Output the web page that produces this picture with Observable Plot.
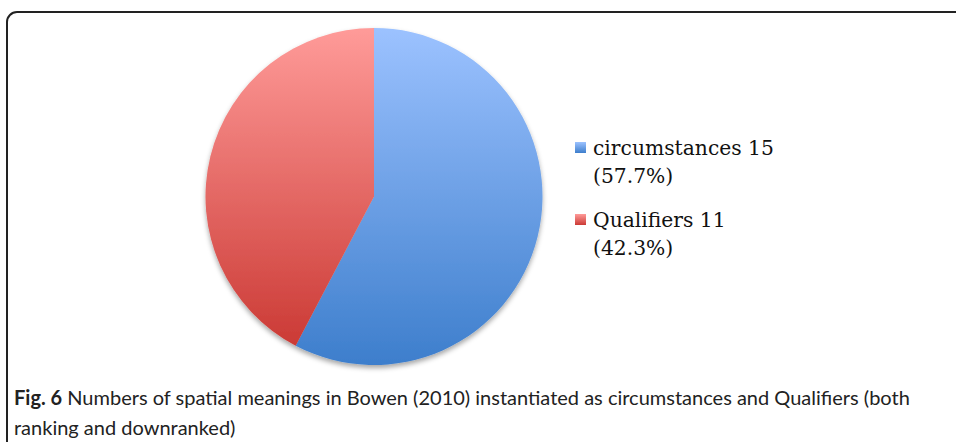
<!DOCTYPE html>
<html><head><meta charset="utf-8">
<script src="https://cdn.jsdelivr.net/npm/d3@7"></script>
<script src="https://cdn.jsdelivr.net/npm/@observablehq/plot@0.6"></script>
<style>
html,body{margin:0;padding:0;background:#fff;}
#wrap{position:relative;width:956px;height:442px;overflow:hidden;background:#fff;}
#frame{position:absolute;left:6px;top:11px;width:1000px;height:520px;border:2px solid #222;border-top-left-radius:11px;box-sizing:border-box;}
#chart{position:absolute;left:0;top:0;}
#legend{position:absolute;left:0;top:0;font-family:"DejaVu Serif",serif;font-size:20.3px;line-height:28px;color:#111;}
.item{position:absolute;left:593px;white-space:nowrap;}
.sw{position:absolute;left:-18px;top:8px;width:11px;height:11px;}
#caption{position:absolute;left:14px;top:382px;font-family:Lato,sans-serif;font-size:20px;line-height:30px;color:#222;white-space:nowrap;}
#caption b{font-weight:bold;}
</style>
</head><body>
<div id="wrap">
  <div id="frame"></div>
  <div id="chart"></div>
  <div id="legend"></div>
  <div id="caption"></div>
</div>
<script>
// ---- data ----
const categories = ["circumstances", "Qualifiers"];
const counts = [15, 11];
const captionLabel = "Fig. 6";
const captionText = "Numbers of spatial meanings in Bowen (2010) instantiated as circumstances and Qualifiers (both";
const captionText2 = "ranking and downranked)";

// ---- styles ----
const topColors = ["#9cc2ff", "#ff9b99"];
const bottomColors = ["#3d7ecc", "#cb3a35"];

const rows = categories.map((c, i) => ({category: c, count: counts[i]}));
const total = d3.sum(counts);
const arcs = d3.pie().sort(null).value(d => d.count)(rows);

function pieMark(index, scales) {
  const x = scales.x, y = scales.y;
  const cx = x(0), cy = y(0), r = x(1) - x(0);
  const arc = d3.arc().innerRadius(0).outerRadius(r);
  const g = d3.create("svg:g");
  const defs = g.append("defs");
  arcs.forEach((a, i) => {
    const lg = defs.append("linearGradient").attr("id", "grad" + i)
      .attr("x1", 0).attr("y1", 0).attr("x2", 0).attr("y2", 1);
    lg.append("stop").attr("offset", "0%").attr("stop-color", topColors[i]);
    lg.append("stop").attr("offset", "100%").attr("stop-color", bottomColors[i]);
  });
  const f = defs.append("filter").attr("id", "shadow").attr("x", "-10%").attr("y", "-10%").attr("width", "120%").attr("height", "125%");
  f.append("feDropShadow").attr("dx", 0).attr("dy", 3).attr("stdDeviation", 2.5).attr("flood-color", "#000").attr("flood-opacity", 0.35);
  g.append("g").attr("filter", "url(#shadow)").attr("transform", `translate(${cx},${cy})`)
    .selectAll("path").data(arcs).join("path")
    .attr("d", arc).attr("fill", (d, i) => `url(#grad${i})`);
  return g.node();
}

const centroids = arcs.map(a => {
  const m = (a.startAngle + a.endAngle) / 2;
  return {x: 0.5 * Math.sin(m), y: 0.5 * Math.cos(m)};
});

const chart = Plot.plot({
  width: 956,
  height: 382,
  margin: 0,
  x: {domain: [-1, 1], range: [205.5, 542.5], axis: null},
  y: {domain: [-1, 1], range: [365, 28], axis: null},
  marks: [
    Plot.dot(centroids, {x: "x", y: "y", r: 0, fillOpacity: 0, strokeOpacity: 0}),
    pieMark
  ]
});
document.getElementById("chart").appendChild(chart);

// legend
const legend = d3.select("#legend");
const tops = [134, 206];
rows.forEach((d, i) => {
  const pct = (d.count / total * 100).toFixed(1);
  const it = legend.append("div").attr("class", "item").style("top", tops[i] + "px");
  it.append("div").attr("class", "sw")
    .style("background", `linear-gradient(${topColors[i]}, ${bottomColors[i]})`);
  it.append("div").text(`${d.category} ${d.count}`);
  it.append("div").text(`(${pct}%)`);
});

// caption
const cap = document.getElementById("caption");
cap.innerHTML = `<b>${captionLabel}</b> ${captionText}<br>${captionText2}`;
</script>
</body></html>
